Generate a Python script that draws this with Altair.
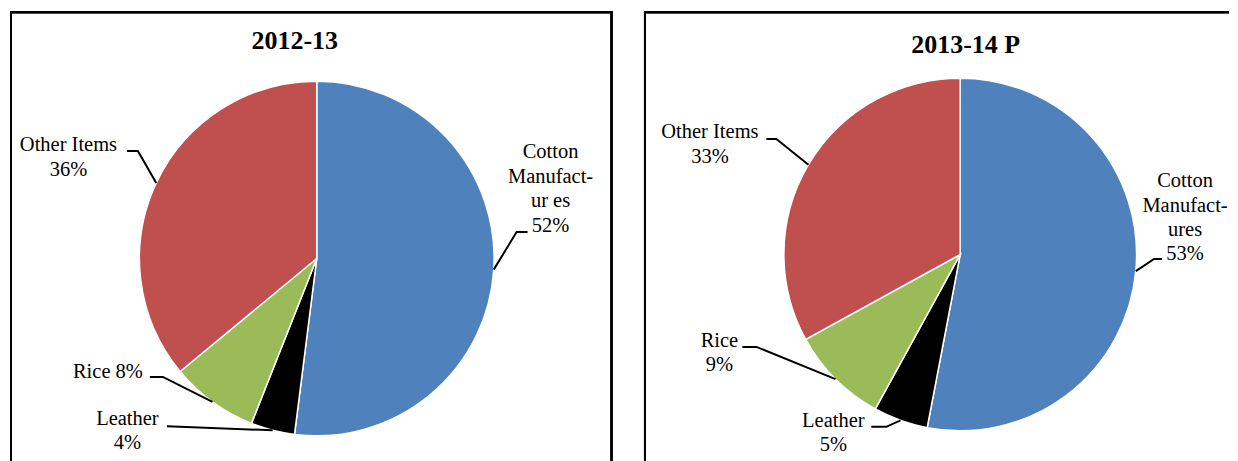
import math
import altair as alt
import pandas as pd

# ---------------- data ----------------
categories = ["Cotton Manufactures", "Leather", "Rice", "Other Items"]
shares_2012_13 = [52, 4, 8, 36]
shares_2013_14 = [53, 5, 9, 33]
label_lines_2012_13 = [["Cotton", "Manufact-", "ur es"], ["Leather"], ["Rice"], ["Other Items"]]
pct_inline_2012_13 = [False, False, True, False]
label_lines_2013_14 = [["Cotton", "Manufact-", "ures"], ["Leather"], ["Rice"], ["Other Items"]]
pct_inline_2013_14 = [False, False, False, False]
panel_titles = ["2012-13", "2013-14 P"]
colors = ["#4F81BD", "#000000", "#9BBB59", "#C0504D"]

# ---------------- layout (pixels, relative to pie centre, y up) ----------------
FONT = "Liberation Serif, Times New Roman, serif"
LINE_STEP = 24.5
layout_left = dict(
    W=606, H=453, cx=309, cy=250.5, R=177.5, title=(-22, 209.5), border_right=604,
    border_left=3,
    labels=[(234, 100.5), (-189.5, -166.5), (-209, -119.5), (-248.5, 107.5)],
    elbows=[[(200, 26.5), (211, 26.5)], [(-150, -168)], [(-154, -118.5), (-167, -118.5)],
            [(-179, 107.5), (-190, 107.5)]],
)
layout_right = dict(
    W=587, H=453, cx=318, cy=246.5, R=176.5, title=(5.5, 201.5), border_right=None,
    border_left=2.5,
    labels=[(225, 67.5), (-127, -172.5), (-241, -92.5), (-250.5, 116.5)],
    elbows=[[(194, -4.5), (202, -4.5)], [(-74, -172.5), (-89, -172.5)],
            [(-204, -92.5), (-218, -92.5)], [(-184, 115.5), (-194, 115.5)]],
)


def panel(title, shares, lines, inline, lay):
    W, H, cx, cy, R = lay["W"], lay["H"], lay["cx"], lay["cy"], lay["R"]
    total = float(sum(shares))
    pie_df = pd.DataFrame({"category": categories, "share": shares, "idx": list(range(len(shares)))})

    lead_rows, text_rows = [], []
    cum = 0.0
    for i, (cat, s) in enumerate(zip(categories, shares)):
        mid = (cum + s / 2.0) / total * 2 * math.pi
        cum += s
        pts = [(R * math.sin(mid), R * math.cos(mid))] + lay["elbows"][i]
        for k, (px, py) in enumerate(pts):
            lead_rows.append({"category": cat, "pt": k, "x": px, "y": py})
        ls = list(lines[i])
        pct = f"{s}%"
        if inline[i]:
            ls[-1] = ls[-1] + " " + pct
        else:
            ls.append(pct)
        lx, ly = lay["labels"][i]
        for j, t in enumerate(ls):
            text_rows.append({"txt": t, "x": lx, "y": ly - j * LINE_STEP})

    xs = alt.Scale(domain=[-cx, W - cx], nice=False, zero=False)
    ys = alt.Scale(domain=[-(H - cy), cy], nice=False, zero=False)

    arcs = alt.Chart(pie_df).mark_arc(stroke="white", strokeWidth=1.5, outerRadius=R).encode(
        theta=alt.Theta("share:Q", stack=True),
        order=alt.Order("idx:Q"),
        color=alt.Color("category:N", scale=alt.Scale(domain=categories, range=colors), legend=None),
        x=alt.XDatum(0, scale=xs, axis=None),
        y=alt.YDatum(0, scale=ys, axis=None),
    )
    leaders = alt.Chart(pd.DataFrame(lead_rows)).mark_line(color="black", strokeWidth=2).encode(
        x=alt.X("x:Q", scale=xs, axis=None),
        y=alt.Y("y:Q", scale=ys, axis=None),
        detail="category:N",
        order="pt:Q",
    )
    texts = alt.Chart(pd.DataFrame(text_rows)).mark_text(
        font=FONT, fontSize=20.5, color="black", align="center", baseline="alphabetic"
    ).encode(
        x=alt.X("x:Q", scale=xs, axis=None),
        y=alt.Y("y:Q", scale=ys, axis=None),
        text="txt:N",
    )
    tdf = pd.DataFrame({"txt": [title], "x": [lay["title"][0]], "y": [lay["title"][1]]})
    ttl = alt.Chart(tdf).mark_text(
        font=FONT, fontSize=26, fontWeight="bold", color="black", align="center", baseline="alphabetic"
    ).encode(
        x=alt.X("x:Q", scale=xs, axis=None),
        y=alt.Y("y:Q", scale=ys, axis=None),
        text="txt:N",
    )
    bl = lay["border_left"]
    borders = [
        alt.Chart(pie_df).mark_rule(color="black", strokeWidth=2).encode(
            x=alt.value(bl), y=alt.value(3), y2=alt.value(H)),
        alt.Chart(pie_df).mark_rule(color="black", strokeWidth=2).encode(
            x=alt.value(bl - 1), x2=alt.value(lay["border_right"] + 1 if lay["border_right"] else W),
            y=alt.value(4)),
    ]
    if lay["border_right"]:
        borders.append(alt.Chart(pie_df).mark_rule(color="black", strokeWidth=2).encode(
            x=alt.value(lay["border_right"]), y=alt.value(3), y2=alt.value(H)))
    return alt.layer(arcs, leaders, texts, ttl, *borders).properties(width=W, height=H)


left = panel(panel_titles[0], shares_2012_13, label_lines_2012_13, pct_inline_2012_13, layout_left)
right = panel(panel_titles[1], shares_2013_14, label_lines_2013_14, pct_inline_2013_14, layout_right)

chart = alt.hconcat(left, right, spacing=29).resolve_scale(
    x="independent", y="independent"
).properties(padding=0).configure_view(stroke=None)

chart.save("out.html", embed_options={"renderer": "svg", "actions": False})
